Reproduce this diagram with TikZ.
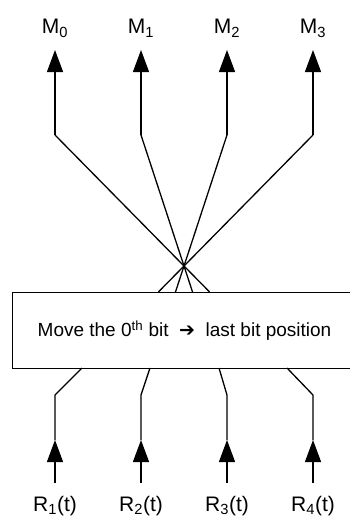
\documentclass[tikz,border=0pt]{standalone}
\usepackage{fontspec}
\setmainfont{Liberation Sans}
\newfontfamily\symfont{DejaVu Sans}
\usetikzlibrary{arrows.meta,calc}
\begin{document}
\begin{tikzpicture}[x=1pt,y=-1pt,
  conn/.style={line width=1.3pt},
  tip/.style={-{Triangle[length=22pt,width=16pt]}},
  lbl/.style={font=\fontsize{21}{22}\selectfont,inner sep=0pt,anchor=base},
  boxtext/.style={font=\fontsize{19}{20}\selectfont,inner sep=0pt}]
\useasboundingbox (0,0) rectangle (350,519);
\clip (0,0) rectangle (350,519);
% box
\node[draw,line width=0.9pt,minimum width=338pt,minimum height=76pt,inner sep=0pt,anchor=north west] (box) at (12,292) {};
\node[boxtext] (txt) at (184.5,331) {Move the 0\textsuperscript{th} bit \ {\symfont ➔} \ last bit position};
% top labels
\foreach \i/\x in {0/55,1/141,2/227,3/313}{
  \node[lbl] (M\i) at (\x,34) {M\textsubscript{\i}};
  \coordinate (t\i) at (\x,50);
  \coordinate (b\i) at (\x,135);
}
\coordinate (c) at (184,266);
\foreach \i in {0,1,2,3}{
  \coordinate (e\i) at ($(b\i)!1.198!(c)$);
  \draw[conn] (e\i) -- (c) -- (b\i);
  \draw[conn,tip] (b\i) -- (t\i);
}
% bottom
\foreach \i/\x/\sx in {1/55/82,2/141/150,3/227/219,4/313/287}{
  \node[lbl] (R\i) at (\x,511) {R\textsubscript{\i}(t)};
  \coordinate (s\i) at (\sx,368);
  \coordinate (k\i) at (\x,395);
  \coordinate (p\i) at (\x,440);
  \coordinate (q\i) at (\x,483);
  \draw[conn,tip] (q\i) -- (p\i);
  \draw[conn] (p\i) -- (k\i) -- (s\i);
}
\end{tikzpicture}
\end{document}
